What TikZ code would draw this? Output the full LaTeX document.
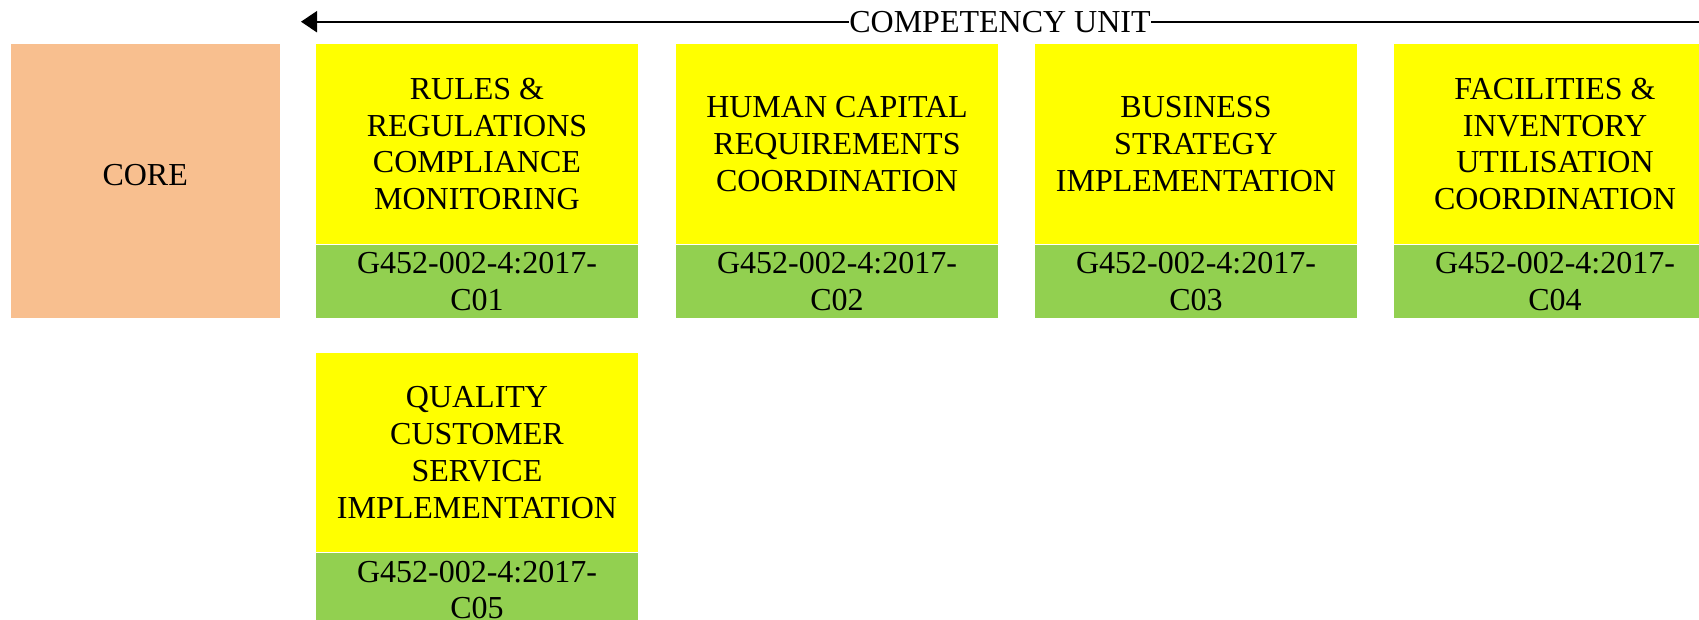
\documentclass[tikz,border=0pt]{standalone}
\usepackage{fontspec}
\setmainfont{Liberation Serif}
\usetikzlibrary{positioning}
\usetikzlibrary{arrows.meta}
\definecolor{coreorange}{HTML}{F8BF8F}
\definecolor{codegreen}{HTML}{92D050}
\definecolor{unityellow}{HTML}{FFFF00}
\tikzstyle{box}=[inner sep=0pt, align=center, font=\fontsize{16}{18.4}\selectfont]
\tikzstyle{corebox}=[box, fill=coreorange, minimum width=134.4pt, minimum height=136.6pt, text depth=6.5pt]
\tikzstyle{unit}=[box, fill=unityellow, minimum width=161pt, minimum height=99.7pt]
\tikzstyle{code}=[box, fill=codegreen, minimum width=161pt, minimum height=36.9pt]

\begin{document}
\begin{tikzpicture}[x=0.5pt, y=-0.5pt]
        \useasboundingbox (0,0) rectangle (1699,620);
        \node[corebox] (core) at (145.2,181) {CORE};
        \node[unit] (U1) at (477,144.1) {RULES \&\\REGULATIONS\\COMPLIANCE\\MONITORING};
        \node[unit] (U2) at (837,144.1) {HUMAN CAPITAL\\REQUIREMENTS\\COORDINATION};
        \node[unit] (U3) at (1196,144.1) {BUSINESS\\STRATEGY\\IMPLEMENTATION};
        \node[unit] (U4) at (1555,144.1) {FACILITIES \&\\INVENTORY\\UTILISATION\\COORDINATION};
        \node[unit] (U5) at (477,452.7) {QUALITY\\CUSTOMER\\SERVICE\\IMPLEMENTATION};
        \node[code, below=0pt of U1] (C1) {G452-002-4:2017-\\C01};
        \node[code, below=0pt of U2] (C2) {G452-002-4:2017-\\C02};
        \node[code, below=0pt of U3] (C3) {G452-002-4:2017-\\C03};
        \node[code, below=0pt of U4] (C4) {G452-002-4:2017-\\C04};
        \node[code, below=0pt of U5] (C5) {G452-002-4:2017-\\C05};
        % axis over the units
        \coordinate (tail) at (1699,21.7);
        \coordinate (head) at (301,21.7);
        \draw[-{Triangle[length=8pt,width=10.5pt]}, line width=1.1pt] (tail) -- (head)
            node[box, midway, fill=white] (label) {COMPETENCY UNIT};
\end{tikzpicture}
\end{document}
